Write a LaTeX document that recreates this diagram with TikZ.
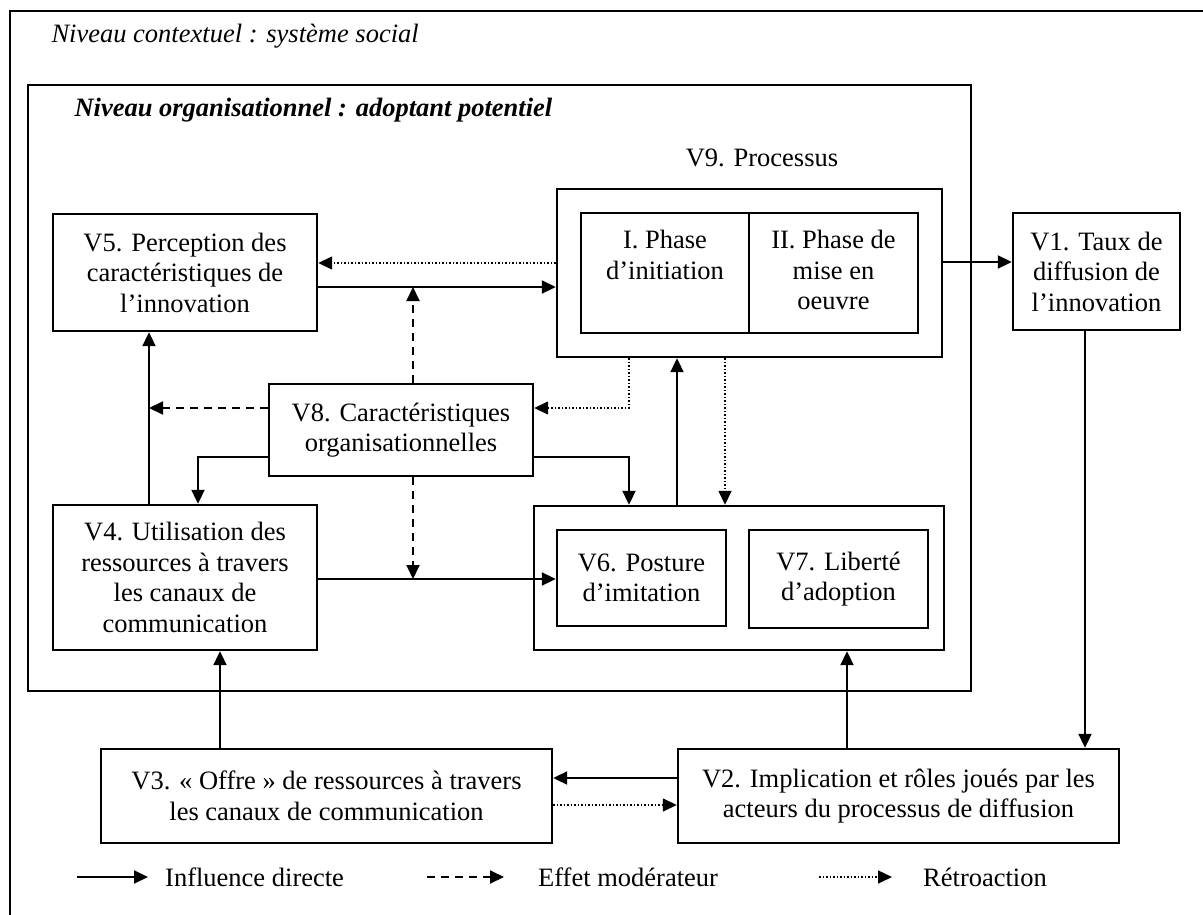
\documentclass[tikz,border=0pt]{standalone}
\usepackage{fontspec}
\setmainfont{Liberation Serif}
\usetikzlibrary{arrows.meta, positioning, calc}
\tikzset{
  arrowS/.style={-{Triangle[length=14pt, width=13pt]}, line width=2pt},
  arrowD/.style={-{Triangle[length=14pt, width=13pt]}, line width=2pt,
                 dash pattern=on 8pt off 6pt},
  arrowP/.style={-{Triangle[length=14pt, width=13pt]}, line width=1.5pt,
                 dash pattern=on 1.5pt off 2pt},
  boxV/.style={rectangle, draw, line width=2.4pt, align=center, inner sep=0pt},
  frameV/.style={draw, line width=2.4pt},
}
\begin{document}
\begin{tikzpicture}[x=1pt, y=-1pt, font=\fontsize{26.5}{30.5}\selectfont]
  \useasboundingbox (0,0) rectangle (1203,915);
  % frames
  \draw[frameV] (1203,11) -- (10,11) -- (10,915);
  \draw[frameV] (28,85) rectangle (971,691);
  \node[anchor=base west, font=\fontsize{26.5}{30.5}\selectfont\itshape] (ctx) at (48,43) {Niveau contextuel : système social};
  \node[anchor=base west, font=\fontsize{26.5}{30.5}\selectfont\bfseries\itshape] (org) at (71,117) {Niveau organisationnel : adoptant potentiel};

  % boxes
  \node[boxV, minimum width=264pt, minimum height=117pt] (v5) at (185,272.5) {V5. Perception des\\caractéristiques de\\l’innovation};
  \node[anchor=base] (v9lbl) at (762,167) {V9. Processus};
  \node[boxV, minimum width=385pt, minimum height=168pt] (v9) at (749.5,273) {};
  \node[boxV, minimum width=168pt, minimum height=120pt] (ph1) at (665,273) {};
  \node[boxV, minimum width=169pt, minimum height=120pt] (ph2) at (833.5,273) {};
  \node[anchor=north, align=center, inner sep=0pt] (ph1t) at (665,230) {I. Phase\\d’initiation};
  \node[anchor=north, align=center, inner sep=0pt] (ph2t) at (833.5,230) {II. Phase de\\mise en\\oeuvre};
  \node[boxV, minimum width=167pt, minimum height=117pt] (v1) at (1096.5,271.5) {V1. Taux de\\diffusion de\\l’innovation};
  \node[boxV, minimum width=264pt, minimum height=92pt] (v8) at (401,430) {V8. Caractéristiques\\organisationnelles};
  \node[boxV, minimum width=264pt, minimum height=145pt] (v4) at (185,577.5) {V4. Utilisation des\\ressources à travers\\les canaux de\\communication};
  \node[boxV, minimum width=410pt, minimum height=144pt] (cont) at (739,578) {};
  \node[boxV, minimum width=169pt, minimum height=96pt] (v6) at (641.5,578) {V6. Posture\\d’imitation};
  \node[boxV, minimum width=179pt, minimum height=98pt] (v7) at (838.5,579) {V7. Liberté\\d’adoption};
  \node[boxV, minimum width=451pt, minimum height=94pt] (v3) at (326.5,796) {V3. « Offre » de ressources à travers\\les canaux de communication};
  \node[boxV, minimum width=441pt, minimum height=94pt] (v2) at (898.5,796) {V2. Implication et rôles joués par les\\acteurs du processus de diffusion};

  % junctions
  \coordinate (jT) at (413,287);
  \coordinate (jB) at (413,579);
  \coordinate (jL) at (149,408);

  % connectors
  \draw[arrowS] (v5.east |- jT) -- (v9.west |- jT);
  \draw[arrowP] ([yshift=10pt]v9.west) -- ([yshift=10pt]v9.west -| v5.east);
  \draw[arrowD] ([xshift=12pt]v8.north) -- (jT);
  \draw[arrowS] ([yshift=11pt]v9.east) -- ([yshift=11pt]v9.east -| v1.west);
  \draw[arrowP] ([xshift=-120.5pt]v9.south) |- ([yshift=22pt]v8.east);
  \draw[arrowP] ([xshift=-24.5pt]v9.south) -- ([xshift=-14pt]cont.north);
  \draw[arrowS] ([xshift=-62pt]cont.north) -- ([xshift=-72.5pt]v9.south);
  \draw[arrowD] ([yshift=22pt]v8.west) -- (jL);
  \draw[arrowS] ([xshift=-36pt]v4.north) -- ([xshift=-36pt]v5.south);
  \draw[arrowS] ([yshift=-27pt]v8.west) -| ([xshift=13pt]v4.north);
  \draw[arrowS] ([yshift=-27pt]v8.east) -| ([xshift=-110pt]cont.north);
  \draw[arrowD] ([xshift=12pt]v8.south) -- (jB);
  \draw[arrowS] (v4.east |- jB) -- (v6.west |- jB);
  \draw[arrowS] ([xshift=-106.5pt]v3.north) -- ([xshift=35pt]v4.south);
  \draw[arrowS] ([xshift=-51.5pt]v2.north) -- ([xshift=108pt]cont.south);
  \draw[arrowS] ([xshift=-11.5pt]v1.south) -- ([xshift=186.5pt]v2.north);
  \draw[arrowS] ([yshift=18pt]v2.west) -- ([yshift=18pt]v2.west -| v3.east);
  \draw[arrowP] ([yshift=-9pt]v3.east) -- ([yshift=-9pt]v3.east -| v2.west);

  % legend
  \coordinate (la1) at (77,877);
  \coordinate (la2) at (148,877);
  \coordinate (lb1) at (427,877);
  \coordinate (lb2) at (504,877);
  \coordinate (lc1) at (819,877);
  \coordinate (lc2) at (892,877);
  \draw[arrowS] (la1) -- (la2);
  \draw[arrowD] (lb1) -- (lb2);
  \draw[arrowP] (lc1) -- (lc2);
  \node[anchor=west, inner sep=0pt] (lgS) at (165,877) {Influence directe};
  \node[anchor=west, inner sep=0pt] (lgD) at (538,877) {Effet modérateur};
  \node[anchor=west, inner sep=0pt] (lgP) at (923,877) {Rétroaction};
\end{tikzpicture}
\end{document}
